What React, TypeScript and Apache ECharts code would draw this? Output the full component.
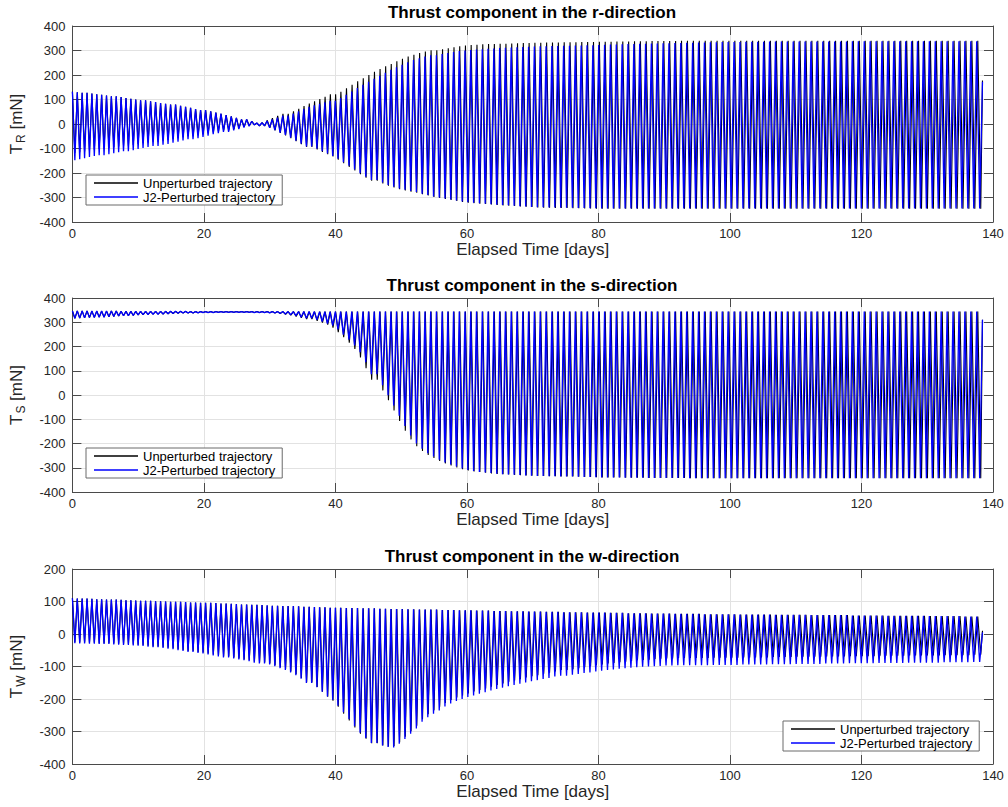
import React, { useEffect, useRef } from 'react';
import * as echarts from 'echarts';

// ---------- data ----------
// Envelope arrays: upper / lower values of the oscillating thrust, sampled every 0.9 days.
const SAMPLE_STEP = 0.9;
// Orbit period (days) read from the stroke spacing, one value per 10-day block.
const orbitPeriodByDecade = [0.74, 0.76, 0.78, 0.8, 0.85, 0.87, 0.88, 0.89, 0.89, 0.9, 0.9, 0.9, 0.9, 0.9];
const BLACK_LAG_PER_DAY = 0.0012; // phase drift of the unperturbed curve
const LAST_TROUGH_DAY = 138.15;
const TAIL_DAY = 138.4;

const seriesNames = ['Unperturbed trajectory', 'J2-Perturbed trajectory'];
const panelTitles = [
  'Thrust component in the r-direction',
  'Thrust component in the s-direction',
  'Thrust component in the w-direction',
];
const panelSubscripts = ['R', 'S', 'W'];
const yMins = [-400, -400, -400];
const yMaxs = [400, 400, 200];
const xTickStep = 20;
const yTickStep = 100;

// r-direction
const rBlackHi = [
  132,129,127,124,121,119,116,113,110,106, 103,100,97,93,90,86,82,79,74,70,
  66,61,57,52,47,42,36,31,25,19, 11,4,6,15,24,33,42,52,62,73,
  84,93,102,111,121,132,146,160,174,187, 200,213,224,236,245,256,266,275,283,290,
  296,301,305,309,313,317,320,322,323,325, 326,327,328,328,329,330,331,331,332,332,
  333,333,333,334,334,334,335,335,335,336, 336,336,337,337,337,338,338,338,339,339,
  339,339,339,340,340,340,340,340,340,340, 340,340,340,340,340,340,340,340,340,340,
  340,340,340,340,340,340,340,340,340,340, 340,340,340,340,340,340,340,340,340,340,
  340,340,340,340,340,340,340,340,340,340, 340,340,340,340,
];
const rBlackLo = [
  -118,-115,-112,-108,-105,-102,-98,-95,-92,-89, -86,-82,-78,-75,-72,-68,-65,-61,-58,-54,
  -50,-46,-42,-38,-34,-30,-26,-21,-17,-12, -7,-3,-8,-16,-26,-36,-47,-58,-70,-82,
  -94,-104,-114,-123,-133,-146,-160,-175,-190,-205, -219,-232,-243,-252,-259,-266,-271,-276,-281,-287,
  -292,-298,-302,-306,-310,-314,-318,-321,-323,-325, -327,-329,-331,-333,-334,-335,-337,-338,-339,-341,
  -342,-342,-343,-343,-344,-344,-345,-345,-346,-346, -346,-346,-346,-346,-346,-346,-346,-346,-346,-346,
  -346,-346,-346,-346,-346,-346,-346,-346,-346,-346, -346,-346,-346,-346,-346,-346,-346,-346,-346,-346,
  -346,-346,-346,-346,-346,-346,-346,-346,-346,-346, -346,-346,-346,-346,-346,-346,-346,-346,-346,-346,
  -346,-346,-346,-346,-346,-346,-346,-346,-346,-346, -346,-346,-346,-346,
];
const rBlueHi = [
  132,129,127,124,121,119,116,113,110,106, 103,100,97,93,90,86,82,79,74,70,
  66,61,57,52,47,42,36,31,25,19, 11,4,5,12,19,26,34,43,52,61,
  70,76,83,89,95,106,119,133,147,160, 172,185,197,209,221,232,242,252,261,268,
  275,281,286,290,294,298,300,302,304,305, 307,308,310,311,312,313,314,315,316,317,
  317,318,318,319,319,320,320,321,321,322, 323,324,324,325,326,326,327,328,329,329,
  330,330,331,331,332,332,333,333,334,334, 335,335,335,335,336,336,336,336,337,337,
  337,337,337,337,337,337,337,337,337,337, 337,337,338,338,338,338,338,338,338,338,
  338,338,338,338,338,338,338,338,338,338, 338,338,338,338,
];
const rBlueLo = [
  -148,-144,-140,-135,-131,-127,-123,-119,-115,-111, -107,-102,-98,-94,-90,-85,-81,-76,-72,-67,
  -62,-58,-53,-48,-42,-37,-32,-26,-21,-15, -9,-4,-7,-15,-25,-35,-45,-56,-68,-80,
  -92,-101,-111,-120,-130,-142,-156,-170,-186,-201, -215,-228,-239,-249,-256,-263,-268,-273,-278,-285,
  -290,-296,-300,-304,-308,-312,-316,-319,-321,-323, -325,-327,-330,-331,-332,-334,-336,-337,-339,-340,
  -340,-341,-341,-342,-342,-343,-343,-344,-344,-345, -345,-345,-345,-345,-345,-345,-345,-345,-345,-345,
  -345,-345,-345,-345,-345,-345,-345,-345,-345,-345, -345,-345,-345,-345,-345,-345,-345,-345,-345,-345,
  -345,-345,-345,-345,-345,-345,-345,-345,-345,-345, -345,-345,-345,-345,-345,-345,-345,-345,-345,-345,
  -345,-345,-345,-345,-345,-345,-345,-345,-345,-345, -345,-345,-345,-345,
];

// s-direction (both trajectories share the same upper envelope)
const sHi = [
  347,347,347,346,346,346,346,346,345,345, 345,345,345,345,345,345,345,345,345,345,
  344,344,344,344,344,344,344,344,344,344, 344,344,344,344,344,344,344,344,344,344,
  344,344,344,344,344,344,344,344,344,344, 344,344,344,344,344,344,344,344,344,344,
  344,344,344,344,344,344,344,344,344,344, 344,344,344,344,344,344,344,344,344,344,
  344,344,344,344,344,344,344,344,344,344, 344,344,344,344,344,344,344,344,344,344,
  344,344,344,344,344,344,344,344,344,344, 344,344,344,344,344,344,344,344,344,344,
  344,344,344,344,344,344,344,344,344,344, 344,344,344,344,344,344,344,344,344,344,
  344,344,344,344,344,344,344,344,344,344, 344,344,344,344,
];
const sBlackLo = [
  316,317,318,319,320,321,323,324,326,327, 328,330,331,332,333,334,335,336,337,338,
  338,339,340,340,340,341,341,341,341,341, 341,340,340,339,338,336,332,329,324,318,
  313,306,298,290,278,259,238,216,190,155, 110,63,19,-22,-64,-107,-147,-183,-211,-231,
  -247,-260,-272,-282,-291,-299,-306,-311,-315,-318, -321,-324,-326,-327,-328,-330,-331,-332,-333,-334,
  -334,-335,-335,-336,-336,-337,-338,-338,-339,-340, -340,-340,-340,-341,-341,-341,-341,-342,-342,-342,
  -342,-342,-342,-342,-343,-343,-343,-343,-343,-343, -343,-343,-343,-343,-343,-343,-343,-343,-343,-343,
  -343,-343,-343,-343,-343,-343,-343,-343,-343,-343, -343,-343,-343,-343,-343,-343,-343,-343,-343,-343,
  -343,-343,-343,-343,-343,-343,-343,-343,-343,-343, -343,-343,-343,-343,
];
const sBlueLo = [
  316,317,318,319,320,321,323,324,326,327, 328,330,331,332,333,334,335,336,337,338,
  338,339,340,340,340,341,341,341,341,341, 341,340,340,339,338,336,334,331,327,321,
  316,310,303,294,286,270,249,228,204,176, 135,86,40,-1,-43,-86,-128,-167,-200,-222,
  -240,-254,-267,-278,-287,-295,-303,-309,-313,-317, -320,-322,-325,-327,-328,-329,-330,-332,-333,-334,
  -334,-335,-335,-336,-336,-337,-338,-338,-339,-340, -340,-340,-340,-341,-341,-341,-341,-342,-342,-342,
  -342,-342,-342,-342,-343,-343,-343,-343,-343,-343, -343,-343,-343,-343,-343,-343,-343,-343,-343,-343,
  -343,-343,-343,-343,-343,-343,-343,-343,-343,-343, -343,-343,-343,-343,-343,-343,-343,-343,-343,-343,
  -343,-343,-343,-343,-343,-343,-343,-343,-343,-343, -343,-343,-343,-343,
];

// w-direction (both trajectories share the same upper envelope)
const wHi = [
  110,109,109,108,107,107,106,106,105,104, 104,103,102,102,101,101,100,99,99,98,
  97,97,96,96,95,94,94,93,92,91, 90,90,89,88,87,87,86,86,85,84,
  84,83,82,82,81,81,80,80,80,79, 79,79,78,78,77,77,77,76,76,75,
  75,75,74,74,74,73,73,73,72,72, 72,71,71,71,70,70,70,69,69,69,
  68,68,68,67,67,67,67,66,66,66, 66,65,65,65,64,64,64,64,63,63,
  63,63,62,62,62,62,62,61,61,61, 61,61,61,60,60,60,60,60,60,59,
  59,59,59,59,59,58,58,58,58,58, 58,58,57,57,57,57,57,57,56,56,
  56,56,56,56,56,55,55,55,55,55, 55,54,54,54,
];
const wBlackLo = [
  -25,-26,-26,-27,-27,-28,-28,-29,-30,-31, -32,-33,-34,-36,-38,-40,-42,-44,-47,-49,
  -52,-55,-57,-60,-63,-66,-69,-72,-75,-78, -81,-85,-88,-91,-96,-102,-108,-115,-124,-135,
  -149,-163,-178,-193,-205,-224,-245,-266,-288,-307, -322,-336,-343,-346,-345,-333,-316,-299,-282,-262,
  -247,-235,-224,-212,-203,-195,-189,-183,-177,-172, -168,-162,-157,-152,-147,-143,-139,-134,-130,-127,
  -122,-119,-115,-111,-108,-105,-102,-99,-96,-94, -91,-89,-87,-85,-83,-81,-80,-79,-77,-76,
  -75,-75,-74,-74,-74,-74,-74,-74,-73,-73, -73,-73,-73,-72,-72,-72,-72,-72,-71,-71,
  -71,-71,-70,-70,-70,-70,-70,-69,-69,-69, -69,-68,-68,-68,-68,-68,-67,-67,-67,-67,
  -67,-66,-66,-66,-66,-66,-66,-65,-65,-65, -65,-65,-64,-64,
];
const wBlueLo = [
  -28,-29,-29,-30,-30,-31,-31,-32,-33,-34, -35,-36,-37,-39,-41,-43,-45,-47,-50,-52,
  -55,-58,-60,-63,-66,-69,-72,-75,-78,-81, -84,-88,-91,-94,-99,-105,-111,-118,-127,-138,
  -151,-164,-178,-192,-203,-221,-241,-262,-284,-304, -320,-335,-343,-348,-349,-338,-323,-307,-291,-270,
  -256,-245,-235,-223,-214,-206,-200,-194,-189,-184, -179,-174,-169,-165,-161,-157,-153,-149,-145,-142,
  -138,-135,-131,-128,-125,-123,-120,-118,-115,-113, -111,-109,-107,-105,-104,-102,-101,-100,-99,-98,
  -97,-97,-96,-96,-96,-96,-96,-96,-95,-95, -95,-95,-95,-94,-94,-94,-94,-94,-93,-93,
  -93,-93,-92,-92,-92,-92,-92,-91,-91,-91, -91,-90,-90,-90,-90,-90,-89,-89,-89,-89,
  -89,-88,-88,-88,-88,-88,-88,-87,-87,-87, -87,-87,-86,-86,
];

// final partial stroke of each curve [black, blue]
const rTail = [178, 172];
const sTail = [310, 310];
const wTail = [10, 5];

// ---------- layout ----------
const FONT = "'Liberation Sans', Arial, Helvetica, sans-serif";
const AXIS_COLOR = '#4a4a4a';
const GRID_COLOR = '#e2e2e2';
const TEXT_COLOR = '#262626';
const layout = [
  { top: 26, height: 196, legendLeft: 86, legendTop: 175, titleY: 12 },
  { top: 298, height: 194, legendLeft: 86, legendTop: 448, titleY: 285 },
  { top: 569, height: 195, legendLeft: 783, legendTop: 721, titleY: 556 },
];
const GRID_LEFT = 71;
const GRID_WIDTH = 922;

function sampleAt(arr: number[], t: number) {
  const i = Math.min(arr.length - 1, Math.max(0, Math.round(t / SAMPLE_STEP)));
  return arr[i];
}

function zigzag(hi: number[], lo: number[], lagRate: number, tail: number) {
  const pts: number[][] = [];
  let t = 0;
  for (;;) {
    const P = orbitPeriodByDecade[Math.min(orbitPeriodByDecade.length - 1, Math.floor(t / 10))];
    if (t + P / 2 > LAST_TROUGH_DAY) break;
    const shift = lagRate * t;
    pts.push([t + shift, sampleAt(hi, t)]);
    pts.push([t + P / 2 + shift, sampleAt(lo, t + P / 2)]);
    t += P;
  }
  pts.push([TAIL_DAY, tail]);
  return pts;
}

const panelData = [
  { black: zigzag(rBlackHi, rBlackLo, BLACK_LAG_PER_DAY, rTail[0]), blue: zigzag(rBlueHi, rBlueLo, 0, rTail[1]) },
  { black: zigzag(sHi, sBlackLo, BLACK_LAG_PER_DAY, sTail[0]), blue: zigzag(sHi, sBlueLo, 0, sTail[1]) },
  { black: zigzag(wHi, wBlackLo, BLACK_LAG_PER_DAY, wTail[0]), blue: zigzag(wHi, wBlueLo, 0, wTail[1]) },
];

function buildOption() {
  const grid: any[] = [];
  const xAxis: any[] = [];
  const yAxis: any[] = [];
  const series: any[] = [];
  const legend: any[] = [];
  const graphic: any[] = [];

  layout.forEach((L, i) => {
    grid.push({ left: GRID_LEFT, top: L.top, width: GRID_WIDTH, height: L.height, show: false });
    const tick = { show: true, inside: true, length: 9, lineStyle: { color: AXIS_COLOR, width: 1 } };
    const line = { show: true, onZero: false, lineStyle: { color: AXIS_COLOR, width: 1 } };
    xAxis.push({
      type: 'value', gridIndex: i, position: 'bottom', min: 0, max: 140, interval: xTickStep,
      axisLine: line, axisTick: tick,
      axisLabel: { color: TEXT_COLOR, fontSize: 13, fontFamily: FONT, margin: 5 },
      splitLine: { show: true, lineStyle: { color: GRID_COLOR, width: 1 } },
      name: 'Elapsed Time [days]', nameLocation: 'middle', nameGap: 18,
      nameTextStyle: { color: TEXT_COLOR, fontSize: 17, fontFamily: FONT },
    });
    xAxis.push({
      type: 'value', gridIndex: i, position: 'top', min: 0, max: 140, interval: xTickStep,
      axisLine: line, axisTick: tick, axisLabel: { show: false }, splitLine: { show: false },
    });
    yAxis.push({
      type: 'value', gridIndex: i, position: 'left', min: yMins[i], max: yMaxs[i], interval: yTickStep,
      axisLine: line, axisTick: tick,
      axisLabel: { color: TEXT_COLOR, fontSize: 13, fontFamily: FONT, margin: 7 },
      splitLine: { show: true, lineStyle: { color: GRID_COLOR, width: 1 } },
      name: `{t|T}{s|${panelSubscripts[i]}}{t| [mN]}`, nameLocation: 'middle', nameGap: 40, nameRotate: 90,
      nameTextStyle: {
        color: TEXT_COLOR, fontFamily: FONT,
        rich: {
          t: { fontSize: 17, fontFamily: FONT, color: TEXT_COLOR, lineHeight: 24, verticalAlign: 'middle' },
          s: { fontSize: 12, fontFamily: FONT, color: TEXT_COLOR, lineHeight: 24, verticalAlign: 'bottom', padding: [0, 0, 2, 1] },
        },
      },
    });
    yAxis.push({
      type: 'value', gridIndex: i, position: 'right', min: yMins[i], max: yMaxs[i], interval: yTickStep,
      axisLine: line, axisTick: tick, axisLabel: { show: false }, splitLine: { show: false },
    });
    series.push({
      type: 'line', name: seriesNames[0], xAxisIndex: 2 * i, yAxisIndex: 2 * i,
      data: panelData[i].black, symbol: 'none', showSymbol: false, silent: true, z: 2,
      lineStyle: { color: '#000000', width: 1.1 }, itemStyle: { color: '#000000' },
    });
    series.push({
      type: 'line', name: seriesNames[1], xAxisIndex: 2 * i, yAxisIndex: 2 * i,
      data: panelData[i].blue, symbol: 'none', showSymbol: false, silent: true, z: 3,
      lineStyle: { color: '#0000ff', width: 1.3 }, itemStyle: { color: '#0000ff' },
    });
    legend.push({
      orient: 'vertical', left: L.legendLeft, top: L.legendTop, data: seriesNames,
      icon: 'rect', itemWidth: 44, itemHeight: 1.5, itemGap: 0, selectedMode: false,
      padding: [1, 7, 1, 8], borderColor: '#6a6a6a', borderWidth: 1, backgroundColor: '#ffffff',
      textStyle: { fontSize: 13, color: '#000000', fontFamily: FONT, lineHeight: 14 },
    });
    graphic.push({
      type: 'text', x: GRID_LEFT + GRID_WIDTH / 2, y: L.titleY,
      style: {
        text: panelTitles[i], fill: '#000000', font: `bold 17px ${FONT}`,
        textAlign: 'center', textVerticalAlign: 'middle',
      },
    });
  });

  return {
    animation: false,
    backgroundColor: '#ffffff',
    grid, xAxis, yAxis, series, legend, graphic,
  };
}

export default function App() {
  const ref = useRef<HTMLDivElement>(null);
  useEffect(() => {
    if (!ref.current) return;
    const chart = echarts.init(ref.current, null, { renderer: 'svg' });
    chart.setOption(buildOption() as any);
    return () => chart.dispose();
  }, []);
  return (
    <div
      ref={ref}
      style={{ position: 'absolute', left: 0, top: 0, width: 1008, height: 807, background: '#ffffff' }}
    />
  );
}
